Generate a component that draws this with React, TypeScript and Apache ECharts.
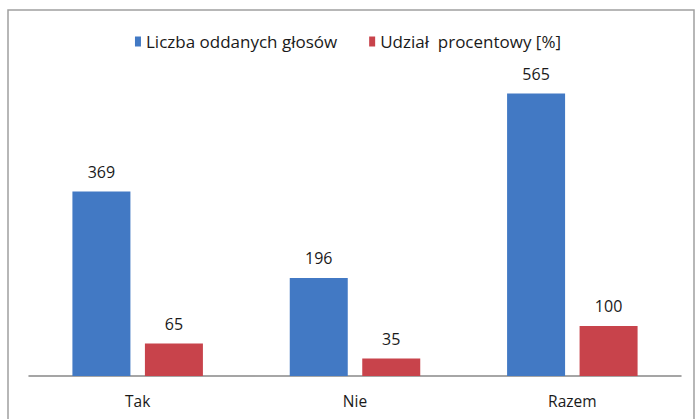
import React, { useEffect, useRef } from "react";
import * as echarts from "echarts";

const categories = ["Tak", "Nie", "Razem"];
const votes = [369, 196, 565];
const percent = [65, 35, 100];
const seriesNames = ["Liczba oddanych głosów", "Udział  procentowy [%]"];

export default function App() {
  const ref = useRef<HTMLDivElement>(null);
  useEffect(() => {
    if (!ref.current) return;
    const chart = echarts.init(ref.current, null, { renderer: "svg" });
    const font = "'Open Sans', sans-serif";
    const label = {
      show: true,
      position: "top" as const,
      distance: 12,
      color: "#1a1a1a",
      fontSize: 16,
      fontFamily: font,
    };
    chart.setOption({
      animation: false,
      backgroundColor: "#fff",
      graphic: [
        {
          type: "rect",
          shape: { x: 8, y: 10, width: 686, height: 420 },
          style: { fill: "none", stroke: "#a0a0a0", lineWidth: 1.5 },
          silent: true,
        },
      ],
      legend: {
        top: 28,
        left: "center",
        itemWidth: 6,
        itemHeight: 10,
        itemGap: 32,
        icon: "rect",
        textStyle: { color: "#1a1a1a", fontSize: 17, fontFamily: font },
        data: seriesNames,
      },
      grid: { left: 29, right: 15, top: 76, bottom: 43 },
      xAxis: {
        type: "category",
        data: categories,
        axisLine: { lineStyle: { color: "#888", width: 1.5 } },
        axisTick: { show: false },
        axisLabel: { color: "#1a1a1a", fontSize: 15.5, fontFamily: font, margin: 17 },
      },
      yAxis: {
        type: "value",
        min: 0,
        max: 600,
        show: false,
        splitLine: { show: false },
      },
      series: [
        {
          name: seriesNames[0],
          type: "bar",
          data: votes,
          barWidth: 58,
          barGap: "25%",
          itemStyle: { color: "#4279C4" },
          label,
        },
        {
          name: seriesNames[1],
          type: "bar",
          data: percent,
          barWidth: 58,
          itemStyle: { color: "#C8434B" },
          label,
        },
      ],
    });
    return () => chart.dispose();
  }, []);
  return (
    <div
      ref={ref}
      style={{ position: "fixed", left: 0, top: 0, width: 696, height: 419 }}
    />
  );
}
